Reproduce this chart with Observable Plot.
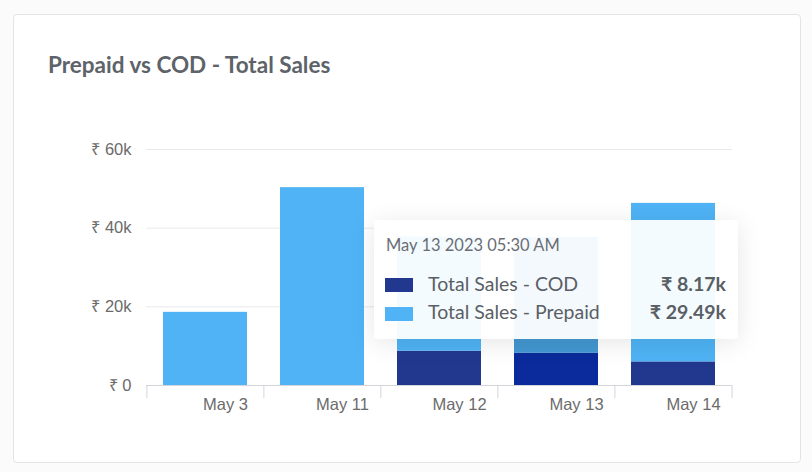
<!DOCTYPE html>
<html>
<head>
<meta charset="utf-8">
<script src="https://cdn.jsdelivr.net/npm/d3@7"></script>
<script src="https://cdn.jsdelivr.net/npm/@observablehq/plot@0.6"></script>
<style>
  html, body { margin: 0; padding: 0; background: #fbfbfc; width: 812px; height: 472px; overflow: hidden; }
  #card { position: absolute; left: 13px; top: 14px; width: 786px; height: 447px; border: 1px solid #e3e4e8; border-radius: 4px; background: #fff; }
  #title { position: absolute; left: 48px; top: 51px; font: 700 22.5px/27px Lato, sans-serif; color: #5d6369; white-space: nowrap; }
  #chart { position: absolute; left: 0; top: 100px; }
  #tip { position: absolute; left: 374px; top: 220px; width: 364px; height: 119px; background: rgba(255,255,255,0.94); border-radius: 3px; box-shadow: 0 4px 26px rgba(0,0,0,0.10); font-family: Lato, sans-serif; color: #5a5f66; }
  #tip .hdr { position: absolute; left: 12px; top: 15px; font-size: 16.5px; line-height: 20px; color: #6a6e74; white-space: nowrap; }
  #tip .sw { position: absolute; left: 11px; width: 28px; height: 14px; }
  #tip .lbl { position: absolute; left: 54px; font-size: 19.5px; line-height: 24px; white-space: nowrap; }
  #tip .val { position: absolute; right: 12px; font-size: 19.5px; line-height: 24px; font-weight: 700; white-space: nowrap; }
</style>
</head>
<body>
<div id="card"></div>
<div id="title">Prepaid vs COD - Total Sales</div>
<div id="chart"></div>
<div id="tip"></div>
<script>
// ---- data ----
const dates = ["May 3", "May 11", "May 12", "May 13", "May 14"];
const codSales = [0, 0, 8700, 8170, 6000];
const prepaidSales = [18600, 50300, 29100, 29490, 40300];
const seriesNames = ["Total Sales - COD", "Total Sales - Prepaid"];
const yTicks = [0, 20000, 40000, 60000];
const hoveredDate = "May 13";
const hoverLabel = "May 13 2023 05:30 AM";

// ---- styling ----
const colors = { COD: "#22388f", Prepaid: "#4fb3f5" };
const hoverColors = { COD: "#0b2b9c", Prepaid: "#4397d2" };

const W = 812, H = 340, ML = 146, MR = 80, MT = 49, MB = 55;
const step = (W - ML - MR) / dates.length;

const rows = dates.flatMap((d, i) => [
  { date: d, series: "COD", value: codSales[i] },
  { date: d, series: "Prepaid", value: prepaidSales[i] }
]);

const fmtY = v => v === 0 ? "₹ 0" : `₹ ${v / 1000}k`;
const fmtTip = v => `₹ ${(v / 1000).toFixed(2)}k`;

const chart = Plot.plot({
  width: W, height: H,
  marginLeft: ML, marginRight: MR, marginTop: MT, marginBottom: MB,
  style: { fontFamily: "'Liberation Sans', Arial, sans-serif", fontSize: "16.5px", color: "#6b6b6b", background: "transparent", overflow: "visible" },
  x: { domain: dates, paddingInner: 0.283, paddingOuter: 0.1415, axis: null },
  y: { domain: [0, 60000], axis: null },
  color: { type: "identity" },
  marks: [
    Plot.ruleY(yTicks.slice(1), { stroke: "#e9e9ed", strokeWidth: 1 }),
    Plot.text(yTicks, { y: d => d, text: fmtY, frameAnchor: "left", textAnchor: "end", dx: -15, fill: "#6b6b6b" }),
    Plot.barY(rows, {
      x: "date", y: "value", z: "series",
      fill: r => (r.date === hoveredDate ? hoverColors : colors)[r.series]
    }),
    Plot.ruleY([0], { stroke: "#d4d5da", strokeWidth: 1 }),
    Plot.ruleX(dates, { x: d => d, dx: -step / 2, insetTop: H - MT - MB, insetBottom: -13, stroke: "#d4d5da" }),
    Plot.ruleX(dates.slice(-1), { x: d => d, dx: step / 2, insetTop: H - MT - MB, insetBottom: -13, stroke: "#d4d5da" }),
    Plot.text(dates, { x: d => d, text: d => d, frameAnchor: "bottom", dy: 24, dx: 20, fill: "#6b6b6b" })
  ]
});
document.getElementById("chart").appendChild(chart);

// ---- tooltip ----
const hi = dates.indexOf(hoveredDate);
const tip = document.getElementById("tip");
tip.innerHTML = `
  <div class="hdr">${hoverLabel}</div>
  <div class="sw" style="top:58px;background:${colors.COD}"></div>
  <div class="lbl" style="top:52px">${seriesNames[0]}</div>
  <div class="val" style="top:52px">${fmtTip(codSales[hi])}</div>
  <div class="sw" style="top:87px;background:${colors.Prepaid}"></div>
  <div class="lbl" style="top:80px">${seriesNames[1]}</div>
  <div class="val" style="top:80px">${fmtTip(prepaidSales[hi])}</div>
`;
</script>
</body>
</html>
